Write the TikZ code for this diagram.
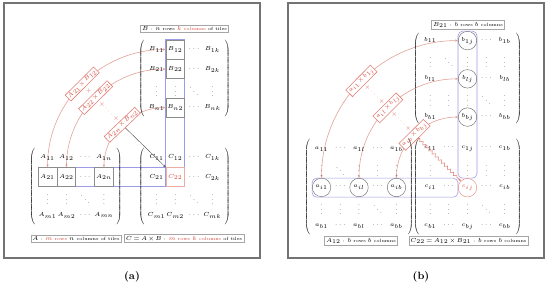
\documentclass[tikz,border=0pt]{standalone}
\usepackage{xcolor}
\usepackage{amsmath}
\usepackage{tikz}
\usetikzlibrary{arrows.meta,matrix,calc,backgrounds,decorations.pathmorphing}
\pgfdeclarelayer{background}
\pgfsetlayers{background,main}

\definecolor{tilered}{RGB}{214,72,58}
\definecolor{arcred}{RGB}{225,160,150}
\definecolor{hlblue}{RGB}{155,155,232}

% Small label text with tighter math spacing.
\newcommand\labelfont{\fontsize{3.9}{4.6}\selectfont\medmuskip=2mu\thickmuskip=3mu}

\begin{document}
\begin{tikzpicture}[
    x=0.03cm, y=0.03cm,
    font=\tiny,
    >={Stealth[length=2.4pt,width=2pt]},
    panel/.style={draw=black!55, line width=1.1pt},
    mtxa/.style={
        matrix of math nodes,
        left delimiter=(, right delimiter=),
        inner sep=1pt,
        nodes={inner sep=0pt, minimum width=0.555cm, minimum height=0.57cm}
    },
    mtxb/.style={
        matrix of math nodes,
        left delimiter=(, right delimiter=),
        inner sep=0.2pt,
        nodes={inner sep=0pt, minimum width=0.555cm, minimum height=0.555cm}
    },
    tile/.style={draw=black!45, line width=0.4pt},
    redtile/.style={draw=tilered!45, text=tilered, line width=0.4pt},
    circ/.style={circle, draw=black!55, line width=0.4pt},
    redcirc/.style={circle, draw=tilered!60, text=tilered, line width=0.4pt},
    hl/.style={draw=hlblue, line width=0.5pt},
    pairarc/.style={<->, draw=arcred, line width=0.5pt},
    prod/.style={draw=tilered!70, fill=white, text=tilered, inner sep=1pt,
        font=\labelfont},
    plus/.style={text=tilered!80, inner sep=0.5pt, font=\labelfont},
    infobox/.style={draw=black!35, fill=white, inner sep=1.4pt,
        font=\labelfont}
]

% Stable crop.
\path[use as bounding box] (0,0) rectangle (550,287);

% --------------------------------------------------
% Panel frames and captions
% --------------------------------------------------
\draw[panel] (4,29) rectangle (260,284);
\draw[panel] (288,29) rectangle (544,284);
\node[font=\small\bfseries] (capa) at (132,10) {(a)};
\node[font=\small\bfseries] (capb) at (421,10) {(b)};

% --------------------------------------------------
% (a) tiles of A, B and C
% --------------------------------------------------
\matrix[mtxa] (tA) at (75.75,100.5) {
    A_{11} & A_{12} & \cdots & A_{1n} \\
    |[tile]| A_{21} & |[tile]| A_{22} & \cdots & |[tile]| A_{2n} \\
    \vdots & \vdots & \ddots & \vdots \\
    A_{m1} & A_{m2} & \cdots & A_{mn} \\
};
\matrix[mtxa] (tB) at (184.5,208.5) {
    B_{11} & |[tile]| B_{12} & \cdots & B_{1k} \\
    B_{21} & |[tile]| B_{22} & \cdots & B_{2k} \\
    \vdots & \vdots & \ddots & \vdots \\
    B_{n1} & |[tile]| B_{n2} & \cdots & B_{nk} \\
};
\matrix[mtxa] (tC) at (184.5,100.5) {
    C_{11} & C_{12} & \cdots & C_{1k} \\
    C_{21} & |[redtile]| C_{22} & \cdots & C_{2k} \\
    \vdots & \vdots & \ddots & \vdots \\
    C_{m1} & C_{m2} & \cdots & C_{mk} \\
};

\node[infobox] (tBlabel) at (184.5,258.5)
    {$B$ : $n$ rows \textcolor{tilered}{$k$ columns} of tiles};
\node[infobox] (tAlabel) at (76,48.5)
    {$A$ : \textcolor{tilered}{$m$ rows} $n$ columns of tiles};
\node[infobox] (tClabel) at (184,48.5)
    {$C=A\times B$ : \textcolor{tilered}{$m$ rows $k$ columns} of tiles};

% --------------------------------------------------
% (b) elements of A12, B21 and C22
% --------------------------------------------------
\matrix[mtxb] (eA) at (359,100) {
    a_{11} & \cdots & a_{1l} & \cdots & a_{1b} \\
    \vdots & \ddots & \vdots & \vdots & \vdots \\
    |[circ]| a_{i1} & \cdots & |[circ]| a_{il} & \cdots & |[circ]| a_{ib} \\
    \vdots & \vdots & \vdots & \ddots & \vdots \\
    a_{b1} & \cdots & a_{bl} & \cdots & a_{bb} \\
};
\matrix[mtxb] (eB) at (467.5,208.5) {
    b_{11} & & |[circ]| b_{1j} & \cdots & b_{1b} \\
    \vdots & \ddots & \vdots & \vdots & \vdots \\
    b_{l1} & & |[circ]| b_{lj} & \cdots & b_{lb} \\
    \vdots & \vdots & \vdots & \ddots & \vdots \\
    b_{b1} & & |[circ]| b_{bj} & \cdots & b_{bb} \\
};
\matrix[mtxb] (eC) at (467.5,100) {
    c_{11} & \cdots & c_{1j} & \cdots & c_{1b} \\
    \vdots & & \vdots & \vdots & \vdots \\
    c_{i1} & \cdots & |[redcirc]| c_{ij} & \cdots & c_{ib} \\
    \vdots & \vdots & \vdots & \ddots & \vdots \\
    c_{b1} & \cdots & c_{bj} & \cdots & c_{bb} \\
};

\node[infobox] (eBlabel) at (468,262) {$B_{21}$ : $b$ rows $b$ columns};
\node[infobox] (eAlabel) at (361,46) {$A_{12}$ : $b$ rows $b$ columns};
\node[infobox] (eClabel) at (468.5,46) {$C_{22}=A_{12}\times B_{21}$ : $b$ rows $b$ columns};

% --------------------------------------------------
% Row/column highlights and product arcs, kept behind the entries.
% --------------------------------------------------
\begin{pgfonlayer}{background}
\draw[hl] (tB-1-2.north west) rectangle (tC-2-2.south east);
\draw[hl] (tA-2-1.north west) rectangle (tC-2-2.south west);

\draw[hl, rounded corners=4pt] (eC-3-3.west |- eB-1-3.north) rectangle (eC-3-3.east |- eC-3-3.north);
\draw[hl, rounded corners=4pt] (eA-3-1.west |- eC-3-3.north) rectangle (eC-3-3.west |- eC-3-3.south);

\draw[pairarc] (tA-2-1.north) to[out=90,in=180]
    node[prod, sloped] (p1) {$A_{21}\times B_{12}$} (tB-1-2.west);
\draw[pairarc] (tA-2-2.north) to[out=90,in=180]
    node[prod, sloped] (p2) {$A_{22}\times B_{22}$} (tB-2-2.west);
\draw[pairarc] (tA-2-4.north) to[out=90,in=180]
    node[prod, sloped] (p3) {$A_{2n}\times B_{n2}$} (tB-4-2.west);

\draw[pairarc] (eA-3-1.north) to[out=90,in=180]
    node[prod, sloped] (q1) {$a_{i1}\times b_{1j}$} (eB-1-3.west);
\draw[pairarc] (eA-3-3.north) to[out=90,in=180]
    node[prod, sloped] (q2) {$a_{il}\times b_{lj}$} (eB-3-3.west);
\draw[pairarc] (eA-3-5.north) to[out=90,in=180]
    node[prod, sloped] (q3) {$a_{ib}\times b_{bj}$} (eB-5-3.west);
\end{pgfonlayer}

% Sums between the partial products.
\node[plus] (s1) at ($(p1)!0.5!(p2)$) {$+$};
\node[plus, rotate=-45] (s2) at ($(p2)!0.5!(p3)$) {$+\cdots+$};
\node[plus, rotate=-45] (s3) at ($(q1)!0.5!(q2)$) {$+\cdots+$};
\node[plus, rotate=-45] (s4) at ($(q2)!0.5!(q3)$) {$+\cdots+$};

% Accumulation into the result.
\draw[->, black!65, line width=0.4pt] (p3) -- (tC-2-2.north west);
\draw[->, tilered!80, line width=0.4pt, decorate,
    decoration={snake, amplitude=0.4mm, segment length=1.3mm, post length=1.2mm}]
    (q3) -- (eC-3-3);

\end{tikzpicture}
\end{document}
